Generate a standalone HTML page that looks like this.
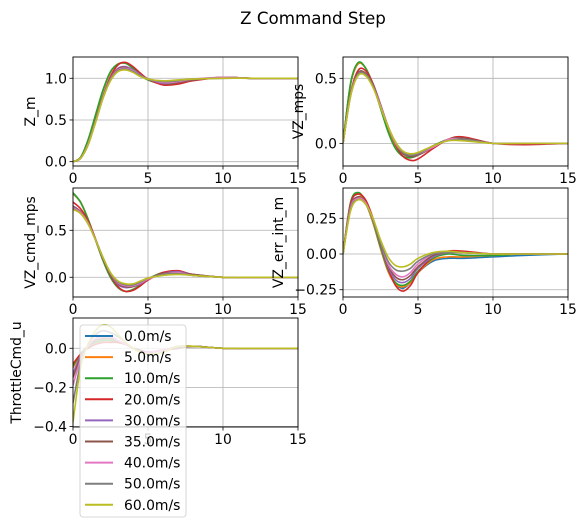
<!DOCTYPE html>
<html><head><meta charset="utf-8">
<style>
body{margin:0;background:#fff;}
svg{display:block;font-family:"DejaVu Sans","Liberation Sans",sans-serif;}
</style></head>
<body>
<svg id="fig" width="587" height="528" viewBox="0 0 587 528" xmlns="http://www.w3.org/2000/svg">
<rect width="587" height="528" fill="#fff"/>
<text x="313" y="24" font-size="16.7" text-anchor="middle">Z Command Step</text>
</svg>
<script>
const times = [0,0.5,1,1.5,2,2.5,3,3.5,4,4.5,5,6,7,8,10,12,15];
const seriesNames = ["0.0m/s","5.0m/s","10.0m/s","20.0m/s","30.0m/s","35.0m/s","40.0m/s","50.0m/s","60.0m/s"];
const colors = ["#1f77b4","#ff7f0e","#2ca02c","#d62728","#9467bd","#8c564b","#e377c2","#7f7f7f","#bcbd22"];
const xTicks = [0,5,10,15];

const zM = [
[0,0.05,0.25,0.55,0.85,1.07,1.17,1.18,1.12,1.04,0.98,0.93,0.94,0.98,1.01,1.0,1.0],
[0,0.05,0.25,0.55,0.85,1.07,1.17,1.18,1.12,1.04,0.98,0.93,0.94,0.98,1.01,1.0,1.0],
[0,0.05,0.26,0.56,0.86,1.08,1.17,1.18,1.12,1.04,0.98,0.93,0.94,0.98,1.01,1.0,1.0],
[0,0.04,0.2,0.48,0.78,1.02,1.16,1.19,1.14,1.06,0.99,0.92,0.93,0.97,1.01,1.0,1.0],
[0,0.04,0.21,0.49,0.78,1.0,1.12,1.14,1.1,1.04,0.99,0.94,0.95,0.98,1.01,1.0,1.0],
[0,0.04,0.21,0.49,0.78,1.0,1.11,1.13,1.09,1.03,0.99,0.95,0.95,0.98,1.01,1.0,1.0],
[0,0.04,0.21,0.48,0.77,0.99,1.1,1.12,1.09,1.03,0.99,0.95,0.96,0.99,1.01,1.0,1.0],
[0,0.04,0.2,0.47,0.76,0.98,1.09,1.11,1.08,1.03,0.99,0.96,0.97,0.99,1.0,1.0,1.0],
[0,0.04,0.2,0.47,0.76,0.97,1.08,1.1,1.07,1.02,0.99,0.97,0.98,0.99,1.0,1.0,1.0]];
const vzMps = [
[0,0.45,0.61,0.58,0.45,0.28,0.1,-0.03,-0.1,-0.11,-0.09,-0.02,0.03,0.04,0.0,0.0,0.0],
[0,0.45,0.61,0.58,0.45,0.28,0.1,-0.03,-0.1,-0.11,-0.09,-0.02,0.03,0.04,0.0,0.0,0.0],
[0,0.46,0.62,0.58,0.45,0.27,0.09,-0.04,-0.1,-0.11,-0.09,-0.02,0.03,0.04,0.0,0.0,0.0],
[0,0.38,0.56,0.56,0.46,0.3,0.13,-0.01,-0.1,-0.13,-0.12,-0.04,0.03,0.05,0.0,-0.01,0.0],
[0,0.37,0.54,0.54,0.45,0.3,0.13,0.0,-0.08,-0.1,-0.09,-0.03,0.03,0.04,0.0,0.0,0.0],
[0,0.37,0.54,0.54,0.45,0.29,0.13,0.0,-0.08,-0.1,-0.09,-0.03,0.03,0.04,0.0,0.0,0.0],
[0,0.37,0.53,0.53,0.44,0.29,0.13,0.0,-0.07,-0.09,-0.08,-0.03,0.03,0.03,0.0,0.0,0.0],
[0,0.36,0.53,0.53,0.44,0.28,0.13,0.01,-0.07,-0.09,-0.08,-0.02,0.02,0.03,0.0,0.0,0.0],
[0,0.36,0.52,0.52,0.43,0.28,0.13,0.01,-0.06,-0.08,-0.07,-0.02,0.02,0.02,0.0,0.0,0.0]];
const vzCmd = [
[0.89,0.8,0.62,0.4,0.18,0.0,-0.11,-0.15,-0.13,-0.08,-0.02,0.05,0.05,0.02,0.0,0.0,0.0],
[0.89,0.8,0.62,0.4,0.18,0.0,-0.11,-0.15,-0.13,-0.08,-0.02,0.05,0.05,0.02,0.0,0.0,0.0],
[0.9,0.8,0.62,0.4,0.18,0.0,-0.11,-0.15,-0.13,-0.08,-0.02,0.05,0.05,0.02,0.0,0.0,0.0],
[0.8,0.73,0.6,0.41,0.2,0.02,-0.1,-0.15,-0.14,-0.09,-0.03,0.05,0.07,0.03,0.0,0.0,0.0],
[0.76,0.7,0.58,0.4,0.2,0.03,-0.08,-0.11,-0.1,-0.07,-0.02,0.04,0.06,0.03,0.0,0.0,0.0],
[0.75,0.7,0.58,0.4,0.2,0.03,-0.07,-0.1,-0.1,-0.06,-0.02,0.04,0.05,0.03,0.0,0.0,0.0],
[0.74,0.69,0.58,0.4,0.21,0.04,-0.06,-0.09,-0.09,-0.06,-0.02,0.03,0.05,0.02,0.0,0.0,0.0],
[0.73,0.68,0.57,0.4,0.21,0.04,-0.05,-0.08,-0.08,-0.05,-0.01,0.03,0.04,0.02,0.0,0.0,0.0],
[0.72,0.68,0.57,0.4,0.21,0.05,-0.04,-0.07,-0.07,-0.04,-0.01,0.02,0.03,0.02,0.0,0.0,0.0]];
const vzErrInt = [
[0,0.35,0.42,0.36,0.22,0.04,-0.12,-0.21,-0.24,-0.2,-0.13,-0.05,-0.03,-0.03,-0.02,-0.01,0.0],
[0,0.35,0.42,0.36,0.22,0.04,-0.12,-0.21,-0.23,-0.2,-0.13,-0.04,-0.02,-0.02,-0.01,0.0,0.0],
[0,0.36,0.43,0.37,0.23,0.05,-0.11,-0.2,-0.22,-0.19,-0.12,-0.03,0.0,-0.01,-0.01,0.0,0.0],
[0,0.35,0.42,0.38,0.25,0.07,-0.1,-0.22,-0.26,-0.22,-0.13,-0.02,0.02,0.02,0.0,0.0,0.0],
[0,0.33,0.4,0.36,0.24,0.07,-0.09,-0.18,-0.2,-0.17,-0.1,-0.02,0.01,0.01,0.0,0.0,0.0],
[0,0.32,0.4,0.36,0.24,0.07,-0.08,-0.16,-0.18,-0.15,-0.09,-0.01,0.01,0.01,0.0,0.0,0.0],
[0,0.32,0.39,0.36,0.24,0.08,-0.07,-0.14,-0.16,-0.13,-0.07,0.0,0.01,0.01,0.0,0.0,0.0],
[0,0.31,0.38,0.35,0.24,0.08,-0.05,-0.11,-0.12,-0.1,-0.05,0.0,0.01,0.01,0.0,0.0,0.0],
[0,0.3,0.38,0.35,0.25,0.1,-0.02,-0.08,-0.09,-0.07,-0.03,0.01,0.02,0.01,0.0,0.0,0.0]];
const throttle = [
[-0.1,-0.03,0.01,0.03,0.04,0.04,0.03,0.02,0.0,-0.01,-0.02,-0.01,0.0,0.01,0.0,0.0,0.0],
[-0.1,-0.03,0.01,0.03,0.04,0.04,0.03,0.02,0.0,-0.01,-0.02,-0.01,0.0,0.01,0.0,0.0,0.0],
[-0.09,-0.03,0.01,0.03,0.04,0.04,0.03,0.02,0.0,-0.01,-0.02,-0.01,0.0,0.01,0.0,0.0,0.0],
[-0.08,-0.03,0.0,0.02,0.03,0.03,0.03,0.02,0.0,-0.01,-0.02,-0.01,0.0,0.01,0.0,0.0,0.0],
[-0.13,-0.04,0.01,0.04,0.05,0.05,0.04,0.02,0.0,-0.01,-0.02,-0.01,0.0,0.01,0.0,0.0,0.0],
[-0.15,-0.05,0.01,0.04,0.05,0.05,0.04,0.02,0.0,-0.01,-0.02,-0.01,0.0,0.01,0.0,0.0,0.0],
[-0.19,-0.06,0.01,0.05,0.06,0.06,0.04,0.02,0.0,-0.02,-0.02,-0.01,0.01,0.01,0.0,0.0,0.0],
[-0.28,-0.08,0.02,0.07,0.09,0.08,0.06,0.03,0.0,-0.02,-0.03,-0.02,0.01,0.01,0.0,0.0,0.0],
[-0.38,-0.1,0.02,0.09,0.12,0.11,0.07,0.03,0.0,-0.02,-0.03,-0.02,0.01,0.01,0.0,0.0,0.0]];

const NS="http://www.w3.org/2000/svg";
const svg=document.getElementById('fig');
function mk(tag,attrs,parent){const e=document.createElementNS(NS,tag);for(const k in attrs)e.setAttribute(k,attrs[k]);(parent||svg).appendChild(e);return e;}
function fmt(v,d){const s=Math.abs(v).toFixed(d);return (v<-1e-9?"\u2212":"")+s;}

const axesDefs=[
 {name:"z-m",x0:73,x1:298,y0:57,y1:166,ymin:-0.052,ymax:1.255,yt:[0,0.5,1.0],dec:1,label:"Z_m",lx:35,data:zM},
 {name:"vz-mps",x0:343,x1:568,y0:57,y1:166,ymin:-0.174,ymax:0.664,yt:[0,0.5],dec:1,label:"VZ_mps",lx:303,data:vzMps},
 {name:"vz-cmd-mps",x0:73,x1:298,y0:188,y1:297,ymin:-0.21,ymax:0.95,yt:[0,0.5],dec:1,label:"VZ_cmd_mps",lx:35,data:vzCmd},
 {name:"vz-err-int-m",x0:343,x1:568,y0:188,y1:297,ymin:-0.301,ymax:0.462,yt:[-0.25,0,0.25],dec:2,label:"VZ_err_int_m",lx:283,data:vzErrInt},
 {name:"throttle-cmd-u",x0:73,x1:298,y0:318,y1:427,ymin:-0.403,ymax:0.155,yt:[-0.4,-0.2,0],dec:1,label:"ThrottleCmd_u",lx:21,data:throttle}
];
function pathFor(xs,ys){
  let d="M"+xs[0].toFixed(2)+","+ys[0].toFixed(2);
  for(let i=0;i<xs.length-1;i++){
    const p0=i>0?i-1:i,p3=i+2<xs.length?i+2:i+1;
    const c1x=xs[i]+(xs[i+1]-xs[p0])/6,c1y=ys[i]+(ys[i+1]-ys[p0])/6;
    const c2x=xs[i+1]-(xs[p3]-xs[i])/6,c2y=ys[i+1]-(ys[p3]-ys[i])/6;
    d+=" C"+c1x.toFixed(2)+","+c1y.toFixed(2)+" "+c2x.toFixed(2)+","+c2y.toFixed(2)+" "+xs[i+1].toFixed(2)+","+ys[i+1].toFixed(2);
  }
  return d;
}
axesDefs.forEach((a,ai)=>{
  const g=mk('g',{});
  
  
  const sx=v=>a.x0+(v-0)/(15-0)*(a.x1-a.x0);
  const sy=v=>a.y1-(v-a.ymin)/(a.ymax-a.ymin)*(a.y1-a.y0);
  const cid='clip'+ai;
  const cp=mk('clipPath',{id:cid},g);mk('rect',{x:a.x0,y:a.y0,width:a.x1-a.x0,height:a.y1-a.y0},cp);
  xTicks.forEach(t=>{
    const gl=mk('line',{x1:sx(t),x2:sx(t),y1:a.y0,y2:a.y1,stroke:'#b0b0b0','stroke-width':0.8},g);
    
    mk('line',{x1:sx(t),x2:sx(t),y1:a.y1,y2:a.y1+3.5,stroke:'#000','stroke-width':0.8},g);
    const tx=mk('text',{x:sx(t),y:a.y1+17,'font-size':13.9,'text-anchor':'middle'},g);
    tx.textContent=t;
  });
  a.yt.forEach(t=>{
    const gl=mk('line',{x1:a.x0,x2:a.x1,y1:sy(t),y2:sy(t),stroke:'#b0b0b0','stroke-width':0.8},g);
    
    mk('line',{x1:a.x0-3.5,x2:a.x0,y1:sy(t),y2:sy(t),stroke:'#000','stroke-width':0.8},g);
    const tx=mk('text',{x:a.x0-6,y:sy(t)+5,'font-size':13.9,'text-anchor':'end'},g);
    tx.textContent=fmt(t,a.dec);
  });
  const lg=mk('g',{'clip-path':'url(#'+cid+')'},g);
  a.data.forEach((ys,si)=>{
    const p=mk('path',{d:pathFor(times.map(sx),ys.map(sy)),fill:'none',stroke:colors[si],'stroke-width':1.6},lg);
    
    
  });
  const fr=mk('rect',{x:a.x0,y:a.y0,width:a.x1-a.x0,height:a.y1-a.y0,fill:'none',stroke:'#000','stroke-width':0.9},g);
  
  const cy=(a.y0+a.y1)/2;
  const yl=mk('text',{x:a.lx,y:cy,'font-size':13.9,'text-anchor':'middle',transform:'rotate(-90 '+a.lx+' '+cy+')'},g);
  yl.textContent=a.label;
});
// legend
const leg=mk('g',{});


mk('rect',{x:80,y:325,width:106,height:192,rx:3,fill:'#fff','fill-opacity':0.8,stroke:'#ccc','stroke-width':0.8},leg);
seriesNames.forEach((n,i)=>{
  const y=336+i*21.1;
  const e=mk('g',{},leg);
  
  
  mk('line',{x1:85,x2:113,y1:y,y2:y,stroke:colors[i],'stroke-width':2},e);
  const t=mk('text',{x:124,y:y+5,'font-size':13.9},e);
  t.textContent=n;
});
</script>
</body></html>
